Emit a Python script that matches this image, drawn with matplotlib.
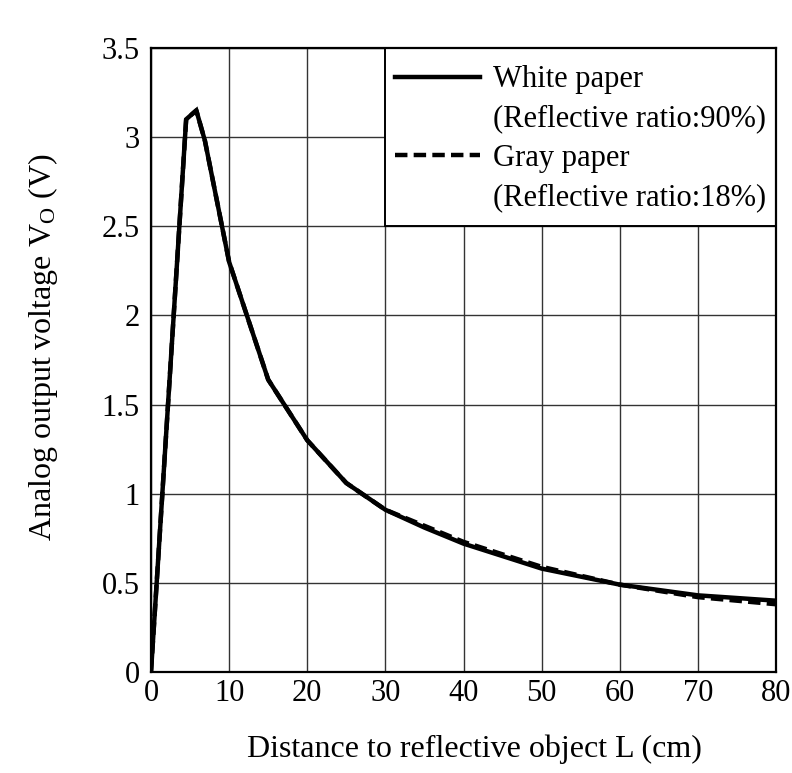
import matplotlib
matplotlib.use("Agg")
import matplotlib.pyplot as plt
from matplotlib.patches import Rectangle
from matplotlib.lines import Line2D

distance_cm = [0, 4.5, 5.8, 6.9, 10, 15, 20, 25, 30, 35, 40, 50, 60, 70, 80]
white_v = [0, 3.10, 3.15, 2.98, 2.30, 1.64, 1.30, 1.06, 0.91, 0.81, 0.72, 0.58, 0.49, 0.43, 0.40]
gray_v = [0, 3.10, 3.15, 2.98, 2.30, 1.64, 1.30, 1.06, 0.91, 0.82, 0.73, 0.59, 0.49, 0.42, 0.38]
x_ticks = [0, 10, 20, 30, 40, 50, 60, 70, 80]
y_ticks = [0, 0.5, 1, 1.5, 2, 2.5, 3, 3.5]
y_tick_labels = ["0", "0.5", "1", "1.5", "2", "2.5", "3", "3.5"]
legend_labels = ["White paper", "(Reflective ratio:90%)", "Gray paper", "(Reflective ratio:18%)"]

FS = 22
plt.rcParams['font.family'] = ['Liberation Serif', 'DejaVu Serif']
plt.rcParams['mathtext.fontset'] = 'custom'
plt.rcParams['mathtext.rm'] = 'Liberation Serif'
plt.rcParams['mathtext.it'] = 'Liberation Serif'

fig = plt.figure(figsize=(7.92, 7.73), dpi=100)
ax = fig.add_axes([151/792, 1 - 672/773, (776-151)/792, (672-48)/773])

ax.set_xlim(0, 80)
ax.set_ylim(0, 3.5)
ax.set_xticks(x_ticks)
ax.set_yticks(y_ticks)
ax.set_yticklabels(y_tick_labels)
ax.tick_params(length=0, labelsize=FS)
ax.tick_params(axis='y', pad=8)
ax.tick_params(axis='x', pad=5)
ax.grid(True, color='#333333', linewidth=1.0)
ax.set_axisbelow(True)
for s in ax.spines.values():
    s.set_linewidth(1.6)
    s.set_zorder(10)

dash = (0, (2.8, 1.4))
ax.plot(distance_cm, white_v, color='black', linewidth=3.2, solid_joinstyle='miter', zorder=3)
ax.plot(distance_cm, gray_v, color='black', linewidth=3.2, linestyle=dash, zorder=4)

# legend box covering grid cells
ax.add_patch(Rectangle((30, 2.5), 50, 1.0, facecolor='white', edgecolor='black',
                       linewidth=1.4, zorder=5))
handles = [Line2D([], [], color='black', linewidth=3.2),
           Line2D([], [], linestyle='none'),
           Line2D([], [], color='black', linewidth=3.2, linestyle=dash),
           Line2D([], [], linestyle='none')]
leg = ax.legend(handles, legend_labels, loc='upper left', bbox_to_anchor=(0.39, 0.972),
                frameon=False, fontsize=FS, handlelength=2.8, handletextpad=0.42,
                labelspacing=0.33, borderaxespad=0, borderpad=0)
leg.set_zorder(6)

ax.set_xlabel("Distance to reflective object L (cm)", fontsize=23, labelpad=20)
ax.set_ylabel(r"Analog output voltage V$_\mathrm{O}$ (V)", fontsize=23, labelpad=30)
ax.xaxis.set_label_coords(0.517, -0.1)
ax.yaxis.label.set_y(0.521)
fig.canvas.draw()
# keep x-position of ylabel after setting y
fig.savefig("out.png", dpi=100)
